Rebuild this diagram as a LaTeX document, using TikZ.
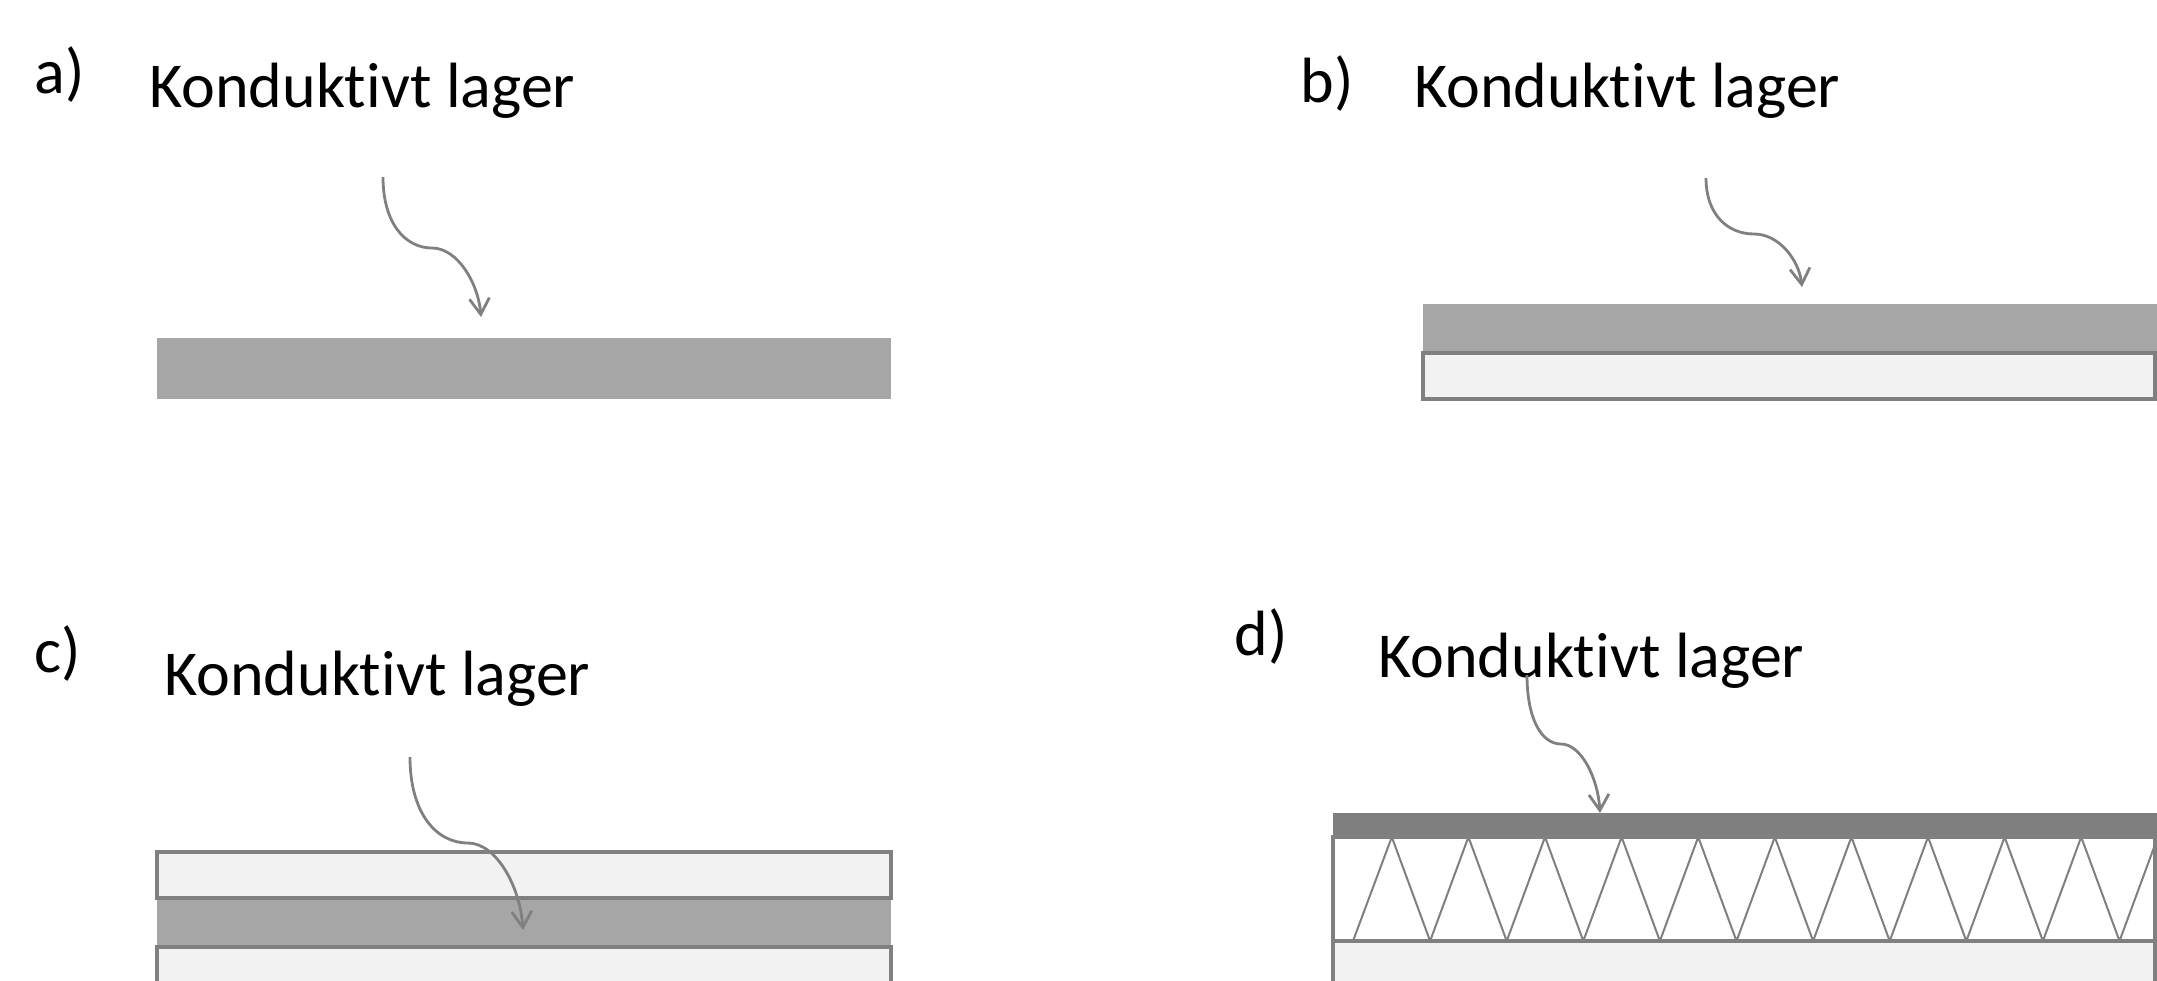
\documentclass[tikz,border=0pt]{standalone}
\usepackage{fontspec}
\setmainfont{Carlito}[Ligatures=NoCommon, RawFeature={-calt}]
\usetikzlibrary{arrows.meta}

\definecolor{layerdark}{HTML}{A6A6A6}
\definecolor{layerlight}{HTML}{F2F2F2}
\definecolor{layertop}{HTML}{7F7F7F}
\definecolor{edgegray}{HTML}{808080}

% label text, with the t-i pair kept as two separate letters
\newcommand\layertext{Kondukt\kern0pt ivt lager}

\tikzset{
  lbl/.style={inner sep=0pt, anchor=base west, font=\fontsize{32}{38}\selectfont},
  darkband/.style={fill=layerdark, draw=none},
  lightband/.style={fill=layerlight, draw=edgegray, line width=1.6pt},
  topband/.style={fill=layertop, draw=none},
  coreband/.style={fill=white, draw=edgegray, line width=1.6pt},
  zigline/.style={draw=edgegray, line width=1pt, line join=miter},
  pointer/.style={draw=edgegray, line width=1.4pt,
    -{Straight Barb[length=8pt,width=10pt]}},
}

\begin{document}
\begin{tikzpicture}[x=0.5pt, y=-0.5pt]
\useasboundingbox (0,0) rectangle (2157,980);
\clip (0,0) rectangle (2157,980);

% ---------- a) single conductive layer ----------
\node[lbl] (aLab) at (34,93) {a)};
\node[lbl] (aTxt) at (149,107) {\layertext};
\fill[darkband] (157,338) rectangle (891,399);
\coordinate (aS) at (383,177);
\coordinate (aM) at (432,248);
\coordinate (aE) at (481,317);
\draw[pointer] (aS) .. controls +(0,46) and +(-27,0) .. (aM)
               .. controls +(25,0) and +(-3,-35) .. (aE);

% ---------- b) conductive layer on a substrate ----------
\node[lbl] (bLab) at (1300,102) {b)};
\node[lbl] (bTxt) at (1414,107) {\layertext};
\fill[darkband] (1423,304) rectangle (2160,353);
\draw[lightband] (1423,353) rectangle (2155,399);
\coordinate (bS) at (1706,178);
\coordinate (bM) at (1754,234);
\coordinate (bE) at (1802,287);
\draw[pointer] (bS) .. controls +(0,37) and +(-26,0) .. (bM)
               .. controls +(25,0) and +(-3,-27) .. (bE);

% ---------- c) conductive layer between two layers ----------
\node[lbl] (cLab) at (34,672) {c)};
\node[lbl] (cTxt) at (164,695) {\layertext};
\fill[darkband] (157,898) rectangle (891,947);
\draw[lightband] (157,852) rectangle (891,898);
\draw[lightband] (157,947) rectangle (891,1010);
\coordinate (cS) at (410,757);
\coordinate (cM) at (468,843);
\coordinate (cE) at (523,930);
\draw[pointer] (cS) .. controls +(0,56) and +(-32,0) .. (cM)
               .. controls +(28,0) and +(-3,-44) .. (cE);

% ---------- d) conductive top on a zigzag core ----------
\node[lbl] (dLab) at (1234,655) {d)};
\node[lbl] (dTxt) at (1378,677) {\layertext};
\fill[topband] (1333,813) rectangle (2160,837);
\draw[coreband] (1333,837) rectangle (2155,941);
\draw[zigline] (1353,941)
  \foreach \k in {0,...,9} {
    -- ({1391.8+76.6*\k},837) -- ({1430.1+76.6*\k},941)
  } -- (2157.8,837);
\draw[lightband] (1333,941) rectangle (2155,1010);
\coordinate (dS) at (1527,675);
\coordinate (dM) at (1561,744);
\coordinate (dE) at (1600,813);
\draw[pointer] (dS) .. controls +(0,45) and +(-19,0) .. (dM)
               .. controls +(20,0) and +(-2,-35) .. (dE);
\end{tikzpicture}
\end{document}
